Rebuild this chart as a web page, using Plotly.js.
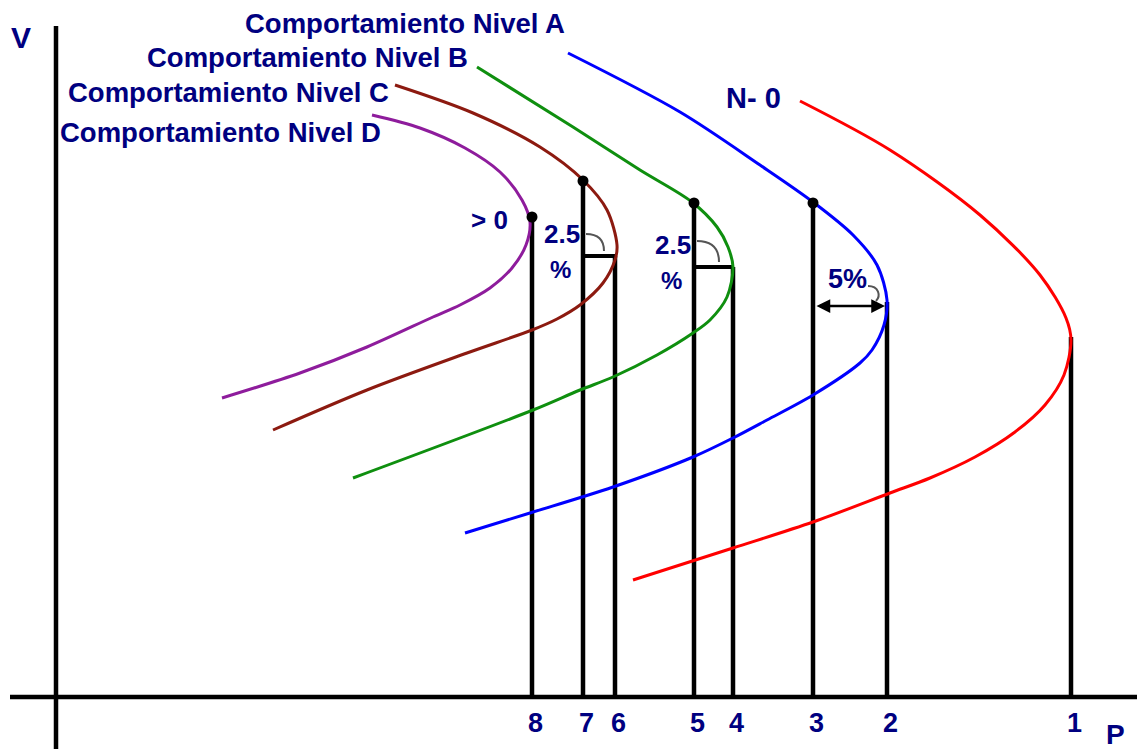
<!DOCTYPE html>
<html>
<head>
<meta charset="utf-8">
<script src="https://cdn.plot.ly/plotly-3.0.1.min.js"></script>
<style>
  html, body { margin: 0; padding: 0; background: #ffffff; }
  #chart { width: 1137px; height: 749px; }
</style>
</head>
<body>
<div id="chart"></div>
<script>
// P-V (nose) curves for the base case N-0 and the four contingency levels.
// P: active power, V: voltage (arbitrary units, origin at the axes crossing).

const n0P = [744, 834, 924, 984, 1010, 1015, 1008, 989, 959, 919, 874, 834, 757, 677, 577];
const n0V = [596, 547, 482, 422, 379, 357, 322, 292, 265, 240, 219, 204, 175, 149, 117];

const nivelAP = [512, 624, 704, 757, 797, 821, 831, 828, 816, 804, 757, 711, 677, 637, 557, 474, 409];
const nivelAV = [644, 585, 532, 495, 462, 432, 397, 372, 347, 334, 302, 277, 259, 240, 210, 184, 164];

const nivelBP = [421, 517, 584, 636, 661, 672, 677, 671, 654, 637, 601, 557, 524, 477, 297];
const nivelBV = [630, 570, 527, 495, 470, 450, 430, 400, 377, 364, 342, 320, 307, 287, 219];

const nivelCP = [339, 417, 484, 527, 551, 561, 559, 547, 524, 501, 476, 411, 311, 217];
const nivelCV = [612, 584, 550, 517, 487, 452, 437, 414, 392, 378, 367, 344, 307, 267];

const nivelDP = [316, 364, 409, 444, 466, 474, 470, 456, 434, 404, 377, 311, 244, 166];
const nivelDV = [582, 569, 549, 525, 497, 475, 452, 429, 409, 392, 380, 350, 324, 299];

// Operating points projected on the P axis
const levelLabels = ['8', '7', '6', '5', '4', '3', '2', '1'];
const levelP      = [476, 527, 559, 638, 677, 757, 831, 1015];
const levelTopV   = [480, 516, 441, 494, 430, 494, 395, 360];
const markedLevels = ['8', '7', '5', '3'];

// Margin pairs: [from level, to level, V of the connector, label]
const marginPairs = [['7', '6', 441, '2.5'], ['5', '4', 430, '2.5']];
const arrowPair = ['3', '2', 391, '5%'];

const curveNames  = ['N- 0', 'Comportamiento Nivel A', 'Comportamiento Nivel B', 'Comportamiento Nivel C', 'Comportamiento Nivel D'];

const NAVY = '#000080';
const FONT = 'Liberation Sans, Arial, sans-serif';
const idx = l => levelLabels.indexOf(l);

const curves = [
  { p: n0P,     v: n0V,     color: '#ff0000' },
  { p: nivelAP, v: nivelAV, color: '#0000ff' },
  { p: nivelBP, v: nivelBV, color: '#0f8f0f' },
  { p: nivelCP, v: nivelCV, color: '#8c1a10' },
  { p: nivelDP, v: nivelDV, color: '#8e1c9c' }
];

const traces = [];

// vertical projection lines
const vx = [], vy = [];
levelP.forEach((p, i) => { vx.push(p, p, null); vy.push(0, levelTopV[i], null); });
traces.push({ x: vx, y: vy, mode: 'lines', line: { color: '#000', width: 4.5 }, hoverinfo: 'skip' });

// horizontal connectors of the 2.5 % margins
const hx = [], hy = [];
marginPairs.forEach(m => { hx.push(levelP[idx(m[0])], levelP[idx(m[1])], null); hy.push(m[2], m[2], null); });
traces.push({ x: hx, y: hy, mode: 'lines', line: { color: '#000', width: 4 }, hoverinfo: 'skip' });

curves.forEach((c, i) => {
  traces.push({
    x: c.p, y: c.v, name: curveNames[i], mode: 'lines',
    line: { color: c.color, width: 3, shape: 'spline', smoothing: 0.9 },
    hoverinfo: 'skip'
  });
});

// marked operating points
traces.push({
  x: markedLevels.map(l => levelP[idx(l)]),
  y: markedLevels.map(l => levelTopV[idx(l)]),
  mode: 'markers', marker: { color: '#000', size: 11 }, hoverinfo: 'skip'
});

const shapes = [
  // axes
  { type: 'line', xref: 'x', yref: 'y', x0: -46, x1: 1081, y0: 0, y1: 0, line: { color: '#000', width: 4.5 } },
  { type: 'line', xref: 'x', yref: 'y', x0: 0, x1: 0, y0: -52, y1: 671, line: { color: '#000', width: 4.5 } }
];

// angle marks for the 2.5 % margins
marginPairs.forEach((m, k) => {
  const cx = levelP[idx(m[0])], cy = m[2], r = k === 0 ? 22 : 26;
  shapes.push({
    type: 'path', xref: 'x', yref: 'y',
    path: `M ${cx + 3},${cy + r} Q ${cx + r - 1},${cy + r} ${cx + r - 1},${cy + 5}`,
    line: { color: '#555', width: 2 }
  });
});

// hook linking the 5% label to its arrow
{
  const cx = levelP[idx(arrowPair[1])], cy = arrowPair[2];
  shapes.push({
    type: 'path', xref: 'x', yref: 'y',
    path: `M ${cx - 19},${cy + 20} C ${cx - 8},${cy + 20} ${cx - 6},${cy + 10} ${cx - 11},${cy + 5}`,
    line: { color: '#555', width: 2 }
  });
}

const txt = (text, x, y, size, anchor, extra) => Object.assign({
  text: text, x: x, y: y, xref: 'x', yref: 'y', showarrow: false,
  xanchor: anchor || 'left', yanchor: 'middle',
  font: { family: FONT, size: size, color: NAVY, weight: 'bold' }
}, extra || {});

const annotations = [
  txt(curveNames[1], 187, 674, 27.5),
  txt(curveNames[2], 89, 640, 27.5),
  txt(curveNames[3], 10, 605, 27.5),
  txt(curveNames[4], 2, 565, 27.5),
  txt(curveNames[0], 668, 599.5, 29),
  txt('> 0', 413, 477, 26),
  txt('V', -35, 659.5, 30, 'center'),
  txt('P', 1059, -37, 28, 'center')
];

marginPairs.forEach((m, k) => {
  const p = levelP[idx(m[0])];
  annotations.push(txt(m[3], p - 41, m[2] + 22, 26));
  annotations.push(txt('%', p - 23, m[2] - 13, 24, 'center'));
});
annotations.push(txt(arrowPair[3], levelP[idx(arrowPair[0])] + 13, arrowPair[2] + 27, 27));

// double-headed arrow for the 5% margin
annotations.push({
  x: levelP[idx(arrowPair[1])], y: arrowPair[2],
  ax: levelP[idx(arrowPair[0])], ay: arrowPair[2],
  xref: 'x', yref: 'y', axref: 'x', ayref: 'y',
  text: '', showarrow: true, arrowside: 'end+start',
  arrowhead: 2, startarrowhead: 2, arrowsize: 1.1, startarrowsize: 1.1,
  arrowwidth: 2.5, arrowcolor: '#000', standoff: 2, startstandoff: 2
});

// P-axis labels
levelLabels.forEach((l, i) => {
  annotations.push(txt(l, levelP[i], -25.5, 27, 'center', { xshift: 3 }));
});

const layout = {
  width: 1137, height: 749,
  margin: { l: 0, r: 0, t: 0, b: 0 },
  paper_bgcolor: '#ffffff', plot_bgcolor: '#ffffff',
  showlegend: false,
  xaxis: { range: [-56, 1081], visible: false, fixedrange: true },
  yaxis: { range: [-52, 697], visible: false, fixedrange: true },
  shapes: shapes,
  annotations: annotations
};

Plotly.newPlot('chart', traces, layout, { staticPlot: true, displayModeBar: false });
</script>
</body>
</html>
